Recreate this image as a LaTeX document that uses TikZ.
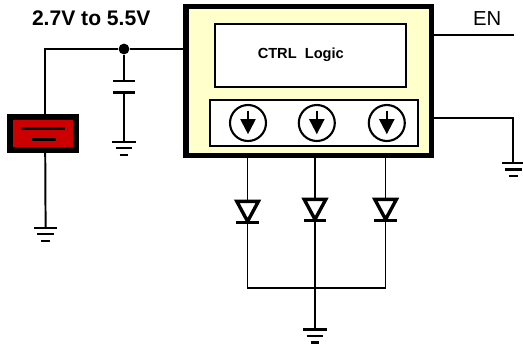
\documentclass[tikz,border=0pt]{standalone}
\usepackage{fontspec}
\setmainfont{Liberation Sans}
\usetikzlibrary{arrows.meta}

\definecolor{chipfill}{HTML}{FFFFCC}
\definecolor{battfill}{HTML}{CC0000}

\tikzset{
  wire/.style={line width=1.4pt},
  box/.style={draw, fill=white, inner sep=0pt, outer sep=0pt, line width=1.7pt},
  plate/.style={fill=black, inner sep=0pt, outer sep=0pt, minimum height=0.065cm},
  source/.style={draw, circle, fill=white, inner sep=0pt, minimum size=0.9cm, line width=1.5pt},
  flow/.style={line width=1.4pt, -{Triangle[length=0.38cm,width=0.38cm]}},
  gnd/.pic={
    \coordinate (-a) at (0,0);
    \draw[line width=1.8pt] (-0.29,0) -- (0.29,0);
    \draw[line width=1.8pt] (-0.21,-0.16) -- (0.21,-0.16);
    \draw[line width=1.8pt] (-0.11,-0.33) -- (0.11,-0.33);
  },
  diode/.pic={
    \coordinate (-a) at (0,0);
    \coordinate (-k) at (0,-0.52);
    \draw[line width=2.4pt, miter limit=3] (-0.27,0) -- (0.27,0) -- (0,-0.5) -- cycle;
    \draw[line width=2.4pt] (-0.28,-0.52) -- (0.28,-0.52);
  }
}

\begin{document}
\begin{tikzpicture}
\useasboundingbox (0,0) rectangle (13.075,8.675);

\node[box, fill=chipfill, line width=3.6pt, minimum width=6.14cm, minimum height=3.73cm] (chip) at (7.72,6.65) {};
\node[box, minimum width=4.78cm, minimum height=1.58cm] (ctrl) at (7.76,7.29) {};
\node[box, minimum width=5.2cm, minimum height=1.15cm] (sources) at (7.85,5.6) {};
\node (ctrltext) at (7.52,7.3) {\fontsize{10.4}{12}\selectfont\bfseries CTRL\ \ Logic};

\node[source] (src1) at (6.2,5.6) {};
\node[source] (src2) at (7.92,5.6) {};
\node[source] (src3) at (9.67,5.6) {};
\draw[flow] ([yshift=0.31cm]src1.center) -- ([yshift=-0.28cm]src1.center);
\draw[flow] ([yshift=0.31cm]src2.center) -- ([yshift=-0.28cm]src2.center);
\draw[flow] ([yshift=0.31cm]src3.center) -- ([yshift=-0.28cm]src3.center);

% supply side
\node (vin) at (2.28,8.21) {\fontsize{15}{18}\selectfont\bfseries 2.7V to 5.5V};
\node[circle, fill=black, inner sep=0pt, minimum size=0.27cm] (junction) at (3.1,7.45) {};
\coordinate (corner) at (1.13,7.45);
\node[draw, fill=battfill, inner sep=0pt, outer sep=0pt, line width=4.3pt, minimum width=1.64cm, minimum height=0.83cm] (batt) at (1.075,5.33) {};
\node[plate, minimum width=1.09cm] (battplus) at (1.07,5.47) {};
\node[plate, minimum width=0.59cm] (battminus) at (1.1,5.19) {};
\node[plate, minimum width=0.55cm] (capa) at (3.1,6.65) {};
\node[plate, minimum width=0.55cm] (capb) at (3.1,6.37) {};
\pic (gnda) at (3.1,5.13) {gnd};
\pic (gndb) at (1.14,2.98) {gnd};

\draw[wire] (junction) -- (junction -| chip.west);
\draw[wire] (junction) -- (corner) -- (corner |- batt.north);
\draw[wire] (corner |- batt.south) -- (gndb-a);
\draw[wire] (junction) -- (capa);
\draw[wire] (capb) -- (gnda-a);

% right side
\node (en) at (12.18,8.22) {\fontsize{14.4}{17}\selectfont EN};
\coordinate (enend) at (12.85,7.8);
\coordinate (bend) at (12.83,5.73);
\pic (gndc) at (12.83,4.6) {gnd};
\draw[line width=1.1pt] (chip.east |- enend) -- (enend);
\draw[line width=1.1pt] (chip.east |- bend) -- (bend) -- (gndc-a);

% diodes
\pic (da) at (6.19,3.64) {diode};
\pic (db) at (7.875,3.69) {diode};
\pic (dc) at (9.64,3.69) {diode};
\coordinate (bus) at (7.875,1.48);
\pic (gndd) at (7.875,0.44) {gnd};

\draw[line width=1.1pt] (da-a |- chip.south) -- (da-a);
\draw[line width=1.1pt] (db-a |- chip.south) -- (db-a);
\draw[line width=1.1pt] (dc-a |- chip.south) -- (dc-a);
\draw[line width=1.1pt] (da-k) |- (bus) -| (dc-k);
\draw[line width=1.1pt] (db-k) -- (gndd-a);
\end{tikzpicture}
\end{document}
